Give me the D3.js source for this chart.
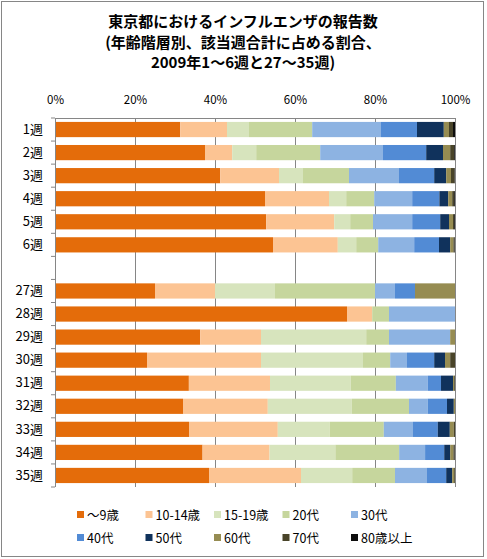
<!DOCTYPE html>
<html>
<head>
<meta charset="utf-8">
<script src="https://cdn.jsdelivr.net/npm/d3@7"></script>
<style>
  body { margin: 0; background: #fff; }
  text { font-family: "Noto Sans CJK JP", "Noto Sans", sans-serif; fill: #000; }
  .title { font-size: 15px; font-weight: bold; }
  .axis text { font-size: 11.5px; }
  .cat text { font-size: 13px; }
  .legend text { font-size: 12.5px; }
</style>
</head>
<body>
<svg id="chart"></svg>
<script>
// weeks (the empty string is the blank row between week 6 and week 27)
const weeks = ["1週", "2週", "3週", "4週", "5週", "6週", "", "27週", "28週", "29週", "30週", "31週", "32週", "33週", "34週", "35週"];
const dataWeeks = weeks.filter(w => w !== "");

const ageGroups = ["〜9歳", "10-14歳", "15-19歳", "20代", "30代", "40代", "50代", "60代", "70代", "80歳以上"];
const ageColors = ["#E46C0A", "#FCC493", "#D7E4BD", "#C6D69D", "#8DB3E2", "#528BD5", "#10325C", "#968C52", "#494429", "#0D0D0D"];

// share (%) per week, one array per age group, in the order of dataWeeks
const age0to9   = [31.3, 37.5, 41.3, 52.5, 52.8, 54.5, 25, 73.0, 36.3, 23.0, 33.5, 32.0, 33.5, 37.0, 38.5];
const age10to14 = [11.7, 6.8, 14.7, 16.0, 17.0, 16.2, 15, 6.3, 15.2, 28.5, 20.3, 21.2, 22.2, 16.8, 23.0];
const age15to19 = [5.5, 6.0, 6.0, 4.3, 4.0, 4.6, 15, 0, 26.3, 25.5, 20.2, 21.0, 13.0, 16.5, 12.8];
const age20s    = [15.8, 16.0, 11.5, 7.0, 5.7, 5.5, 25, 4.2, 5.7, 6.8, 11.3, 14.3, 13.5, 16.0, 10.7];
const age30s    = [17.2, 15.7, 12.5, 9.5, 9.8, 9.0, 5, 16.5, 15.3, 4.2, 8.0, 4.7, 7.3, 6.5, 8.0];
const age40s    = [9.0, 10.8, 8.8, 6.8, 7.0, 6.2, 5, 0, 0, 6.8, 3.3, 4.8, 6.2, 4.8, 4.8];
const age50s    = [6.7, 4.2, 3.0, 2.2, 2.2, 2.8, 0, 0, 0, 2.7, 3.0, 1.7, 3.0, 1.5, 1.5];
const age60s    = [1.3, 1.8, 1.2, 1.0, 1.0, 0.8, 10, 0, 1.2, 1.3, 0.3, 0.3, 1.0, 0.8, 0.5];
const age70s    = [1.0, 1.0, 0.9, 0.5, 0.3, 0.3, 0, 0, 0, 1.2, 0.2, 0, 0.3, 0.3, 0.2];
const age80plus = [0.5, 0.2, 0.1, 0.2, 0.2, 0.1, 0, 0, 0, 0, 0, 0, 0, 0.1, 0];

const seriesValues = [age0to9, age10to14, age15to19, age20s, age30s, age40s, age50s, age60s, age70s, age80plus];

const xTicks = [0, 0.2, 0.4, 0.6, 0.8, 1];
const titleLines = ["東京都におけるインフルエンザの報告数", "(年齢階層別、該当週合計に占める割合、", "2009年1〜6週と27〜35週)"];

// build rows for d3.stack
const rows = dataWeeks.map((w, i) => {
    const row = {week: w};
    ageGroups.forEach((g, j) => row[g] = seriesValues[j][i]);
    return row;
});

const width = 487, height = 559;
const margin = {top: 118, right: 32, bottom: 72, left: 55};
const innerW = width - margin.left - margin.right;
const innerH = height - margin.top - margin.bottom;

const svg = d3.select("#chart").attr("width", width).attr("height", height);

// outer frame
svg.append("rect")
    .attr("x", 1.5).attr("y", 1.5)
    .attr("width", 482).attr("height", 555)
    .attr("fill", "none").attr("stroke", "#868686");

// title
svg.append("g").selectAll("text")
    .data(titleLines)
    .join("text")
    .attr("class", "title")
    .attr("x", 243)
    .attr("y", (d, i) => 27 + i * 20.5)
    .attr("text-anchor", "middle")
    .text(d => d);

const chart = svg.append("g").attr("transform", `translate(${margin.left},${margin.top})`);

const x = d3.scaleLinear().domain([0, 1]).range([0, innerW]);
const y = d3.scaleBand().domain(weeks).range([0, innerH]).paddingInner(0.34).paddingOuter(0.17);

// gridlines + top labels
const xAxis = d3.axisTop(x)
    .tickValues(xTicks)
    .tickSize(-innerH)
    .tickPadding(14)
    .tickFormat(d3.format(".0%"));

chart.append("g")
    .attr("class", "axis")
    .call(xAxis)
    .call(g => g.select(".domain").attr("stroke", "#868686").attr("d", `M0,0.5H${innerW}`))
    .call(g => g.selectAll(".tick line").attr("stroke", "#868686"));

// stacked bars
const stack = d3.stack().keys(ageGroups).offset(d3.stackOffsetExpand);
const stacked = stack(rows);

chart.append("g")
    .selectAll("g")
    .data(stacked)
    .join("g")
    .attr("fill", (d, i) => ageColors[i])
    .selectAll("rect")
    .data(d => d)
    .join("rect")
    .attr("x", d => x(d[0]))
    .attr("width", d => Math.max(0, x(d[1]) - x(d[0])))
    .attr("y", d => y(d.data.week))
    .attr("height", y.bandwidth());

// left axis: line, tick marks at band boundaries, week labels
const yAxis = d3.axisLeft(y).tickSize(0).tickPadding(12);
chart.append("g")
    .attr("class", "axis cat")
    .call(yAxis)
    .call(g => g.select(".domain").attr("stroke", "#868686").attr("d", `M0.5,0V${innerH}`));

const bounds = weeks.map((w, i) => i * y.step()).concat([innerH]);
chart.append("g")
    .selectAll("line")
    .data(bounds)
    .join("line")
    .attr("x1", -4).attr("x2", 0)
    .attr("y1", d => d).attr("y2", d => d)
    .attr("stroke", "#868686");

// legend
const legend = svg.append("g").attr("class", "legend");
const items = legend.selectAll("g")
    .data(ageGroups)
    .join("g")
    .attr("transform", (d, i) => `translate(${77 + (i % 5) * 68.5},${i < 5 ? 515 : 538})`);

items.append("rect")
    .attr("x", 0).attr("y", -4)
    .attr("width", 7).attr("height", 7)
    .attr("fill", (d, i) => ageColors[i]);

items.append("text")
    .attr("x", 10)
    .attr("y", 4.5)
    .text(d => d);
</script>
</body>
</html>
